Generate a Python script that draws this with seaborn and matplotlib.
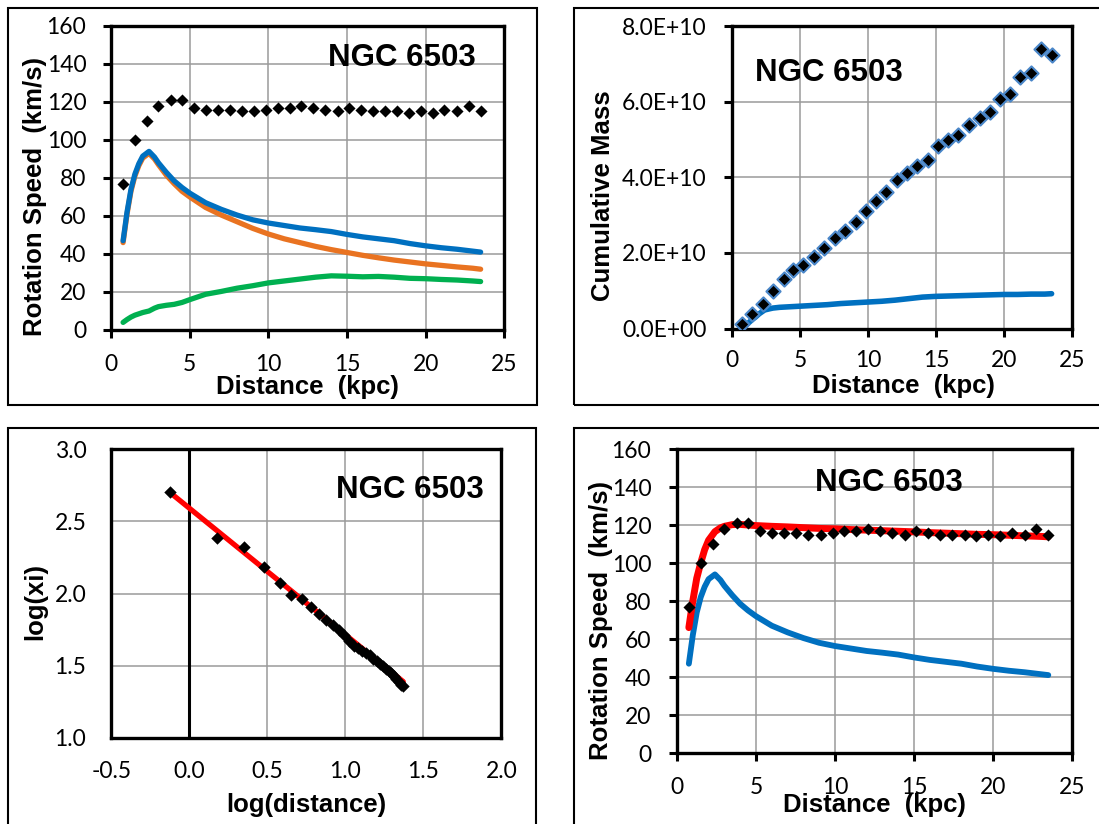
import numpy as np
import pandas as pd
import matplotlib
matplotlib.use("Agg")
import matplotlib.pyplot as plt
from matplotlib.patches import Rectangle
from matplotlib.ticker import FuncFormatter, MultipleLocator
import seaborn as sns

# ---------------- data ----------------
r_obs = [0.75, 1.5, 2.25, 3.0, 3.8, 4.5, 5.25, 6.0, 6.8, 7.55, 8.3, 9.1, 9.85, 10.6,
         11.35, 12.1, 12.85, 13.6, 14.4, 15.15, 15.9, 16.65, 17.4, 18.2, 18.95, 19.7,
         20.45, 21.2, 22.0, 22.75, 23.5]
v_obs = [77, 100, 110, 118, 121, 121, 117, 116, 116, 116, 115, 115, 116, 117,
         117, 118, 117, 116, 115, 117, 116, 115, 115, 115, 114, 115,
         114, 116, 115, 118, 115]
mass_obs = [0.13, 0.38, 0.64, 0.99, 1.30, 1.54, 1.68, 1.90, 2.14, 2.40, 2.57, 2.82, 3.10, 3.37,
            3.62, 3.92, 4.10, 4.29, 4.45, 4.83, 4.98, 5.11, 5.38, 5.58, 5.73, 6.06,
            6.19, 6.66, 6.76, 7.38, 7.23]  # x 1e10

curve_r = [0.75, 1.0, 1.25, 1.5, 1.75, 2.0, 2.4, 2.75, 3.0, 3.5, 4.0, 4.5, 5.0, 6, 7, 8, 9, 10,
           11, 12, 13, 14, 15, 16, 17, 18, 19, 20, 21, 22, 23, 23.5]
v_baryon = [47, 62, 74, 82, 87.5, 91.5, 94, 91, 88, 83, 78.5, 75, 72, 67, 63.5, 60.5, 58, 56.3,
            55, 53.7, 52.8, 51.8, 50.3, 49, 48, 47, 45.5, 44.3, 43.3, 42.5, 41.5, 41]
v_stars = [46, 61, 73, 81, 86.5, 90.5, 93, 90, 87, 81.5, 77, 73, 70, 64.5, 60.5, 57, 53.5, 50.5,
           48, 46, 44, 42.3, 40.8, 39.3, 38, 36.8, 35.8, 34.8, 34, 33.2, 32.5, 32]
v_gas = [4, 5.5, 6.8, 7.8, 8.5, 9.2, 10, 11.5, 12.3, 13, 13.5, 14.5, 16, 18.8, 20.3, 22, 23.3, 24.8,
         25.8, 26.8, 27.8, 28.5, 28.3, 28, 28.2, 27.8, 27.2, 27, 26.6, 26.3, 25.8, 25.5]
v_fit = [66, 80, 92, 100, 107, 112, 116.5, 118.5, 119.3, 120.2, 120.3, 120, 119.7, 119.3, 119,
         118.6, 118.2, 118, 117.6, 117.3, 117, 116.7, 116.4, 116, 115.7, 115.4, 115.1, 114.9,
         114.6, 114.3, 114, 113.8]
mass_baryon = [0.04, 0.09, 0.16, 0.24, 0.31, 0.39, 0.49, 0.52, 0.54, 0.56, 0.57, 0.58, 0.59, 0.61,
               0.63, 0.66, 0.68, 0.70, 0.72, 0.75, 0.79, 0.83, 0.85, 0.86, 0.87, 0.88, 0.89, 0.90,
               0.90, 0.91, 0.91, 0.92]  # x 1e10

log_r = [-0.125, 0.176, 0.352, 0.477, 0.580, 0.653, 0.720, 0.778, 0.833, 0.878, 0.919, 0.959,
         0.993, 1.025, 1.055, 1.083, 1.109, 1.134, 1.158, 1.180, 1.201, 1.221, 1.241, 1.260,
         1.278, 1.294, 1.311, 1.326, 1.342, 1.357, 1.371]
log_xi = [2.70, 2.385, 2.325, 2.18, 2.07, 1.99, 1.96, 1.905, 1.86, 1.82, 1.78, 1.75,
          1.71, 1.67, 1.64, 1.625, 1.60, 1.59, 1.575, 1.55, 1.53, 1.515, 1.50, 1.48,
          1.465, 1.45, 1.43, 1.41, 1.39, 1.37, 1.36]
fit_log_r = [-0.125, 1.371]
fit_log_xi = [2.70, 1.39]

title = "NGC 6503"

# ---------------- style ----------------
sns.set_style("white")
plt.rcParams['font.family'] = ['Lato', 'DejaVu Sans']
plt.rcParams['text.color'] = 'black'
plt.rcParams['axes.labelcolor'] = 'black'
plt.rcParams['xtick.color'] = 'black'
plt.rcParams['ytick.color'] = 'black'

BLUE = "#0070C0"
ORANGE = "#E97321"
GREEN = "#00B050"
RED = "#FF0000"
EDGE = "#4A86C8"
GRID = "#9A9A9A"
TICK_FS = 16.5
LAB_FS = 18.5
TITLE_FS = 22.5
BOLD = dict(family=['Liberation Sans', 'DejaVu Sans'], weight='bold')

fig = plt.figure(figsize=(10.99, 8.24), dpi=100)
W, H = 1099, 824

def px_box(x0, y0, x1, y1):
    fig.patches.append(Rectangle((x0 / W, 1 - y1 / H), (x1 - x0) / W, (y1 - y0) / H,
                                 transform=fig.transFigure, fill=False,
                                 edgecolor="black", linewidth=1.5, zorder=0))

px_box(7.5, 8, 537, 405.5)
px_box(574, 8, 1110, 405.5)
px_box(7.5, 428, 536, 840)
px_box(574, 428, 1110, 840)

def add_axes(x0, y0, x1, y1):
    return fig.add_axes([x0 / W, 1 - y1 / H, (x1 - x0) / W, (y1 - y0) / H])

def style(ax, ticks=True, xpad=11.5, ypad=12.5):
    for s in ax.spines.values():
        s.set_visible(True)
        s.set_linewidth(2.4)
        s.set_color("black")
        s.set_zorder(5)
    ax.grid(True, color=GRID, linewidth=1.1)
    ax.set_axisbelow(True)
    if ticks:
        ax.tick_params(axis='both', which='major', direction='out', length=5.5, width=2.2,
                       color='black', left=True, bottom=True, right=False, top=False,
                       labelsize=TICK_FS, labelcolor='black')
    else:
        ax.tick_params(axis='both', length=0, labelsize=TICK_FS, labelcolor='black')
    ax.tick_params(axis='x', pad=xpad)
    ax.tick_params(axis='y', pad=ypad)

# ---------------- top-left ----------------
ax1 = add_axes(111.3, 26, 504.2, 330)
df_c = pd.DataFrame({"r": curve_r, "baryon": v_baryon, "stars": v_stars, "gas": v_gas,
                     "fit": v_fit, "mb": np.array(mass_baryon) * 1e10})
df_o = pd.DataFrame({"r": r_obs, "v": v_obs, "m": np.array(mass_obs) * 1e10})

sns.lineplot(data=df_c, x="r", y="gas", ax=ax1, color=GREEN, linewidth=3.8,
             solid_capstyle='round', zorder=3)
sns.lineplot(data=df_c, x="r", y="stars", ax=ax1, color=ORANGE, linewidth=3.8,
             solid_capstyle='round', zorder=3)
sns.lineplot(data=df_c, x="r", y="baryon", ax=ax1, color=BLUE, linewidth=3.8,
             solid_capstyle='round', zorder=4)
sns.scatterplot(data=df_o, x="r", y="v", ax=ax1, marker="D", s=38, color="black",
                linewidth=0, zorder=6)
ax1.set_xlim(0, 25)
ax1.set_ylim(0, 160)
ax1.xaxis.set_major_locator(MultipleLocator(5))
ax1.yaxis.set_major_locator(MultipleLocator(20))
style(ax1)
ax1.set_xlabel("Distance  (kpc)", fontsize=LAB_FS, **BOLD)
ax1.set_ylabel("Rotation Speed  (km/s)", fontsize=LAB_FS, **BOLD)
ax1.xaxis.set_label_coords(0.5, -0.1875)
ax1.yaxis.set_label_coords(-0.194, 0.44)
ax1.xaxis.label.set_va('center')
ax1.yaxis.label.set_va('center')
ax1.text(18.5, 143, title, fontsize=TITLE_FS, ha='center', va='center', **BOLD)

# ---------------- top-right ----------------
ax2 = add_axes(732, 26, 1072, 328.5)
sns.lineplot(data=df_c, x="r", y="mb", ax=ax2, color=BLUE, linewidth=4.0,
             solid_capstyle='round', zorder=3)
sns.scatterplot(data=df_o, x="r", y="m", ax=ax2, marker="D", s=52, color="black",
                edgecolor=EDGE, linewidth=1.5, zorder=6)
ax2.set_xlim(0, 25)
ax2.set_ylim(0, 8e10)
ax2.xaxis.set_major_locator(MultipleLocator(5))
ax2.yaxis.set_major_locator(MultipleLocator(2e10))
ax2.yaxis.set_major_formatter(FuncFormatter(lambda v, p: "%.1E" % v))
style(ax2, xpad=10, ypad=13)
ax2.set_xlabel("Distance  (kpc)", fontsize=LAB_FS, **BOLD)
ax2.set_ylabel("Cumulative Mass", fontsize=LAB_FS, **BOLD)
ax2.xaxis.set_label_coords(0.503, -0.19)
ax2.yaxis.set_label_coords(-0.379, 0.439)
ax2.xaxis.label.set_va('center')
ax2.yaxis.label.set_va('center')
ax2.text(7.13, 6.76e10, title, fontsize=TITLE_FS, ha='center', va='center', **BOLD)

# ---------------- bottom-left ----------------
ax3 = add_axes(111.3, 449, 501.4, 738)
df_l = pd.DataFrame({"lr": log_r, "lx": log_xi})
df_f = pd.DataFrame({"lr": fit_log_r, "lx": fit_log_xi})
ax3.axvline(0, color="black", linewidth=2.2, zorder=2)
sns.lineplot(data=df_f, x="lr", y="lx", ax=ax3, color=RED, linewidth=3.8,
             solid_capstyle='round', zorder=3)
sns.scatterplot(data=df_l, x="lr", y="lx", ax=ax3, marker="D", s=40, color="black",
                linewidth=0, zorder=6)
ax3.set_xlim(-0.5, 2.0)
ax3.set_ylim(1.0, 3.0)
ax3.xaxis.set_major_locator(MultipleLocator(0.5))
ax3.yaxis.set_major_locator(MultipleLocator(0.5))
ax3.xaxis.set_major_formatter(FuncFormatter(lambda v, p: "%.1f" % v))
ax3.yaxis.set_major_formatter(FuncFormatter(lambda v, p: "%.1f" % v))
style(ax3, ticks=False, xpad=16.5, ypad=18)
ax3.set_xlabel("log(distance)", fontsize=LAB_FS, **BOLD)
ax3.set_ylabel("log(xi)", fontsize=LAB_FS, **BOLD)
ax3.xaxis.set_label_coords(0.5, -0.232)
ax3.yaxis.set_label_coords(-0.196, 0.474)
ax3.xaxis.label.set_va('center')
ax3.yaxis.label.set_va('center')
ax3.text(1.412, 2.716, title, fontsize=TITLE_FS, ha='center', va='center', **BOLD)

# ---------------- bottom-right ----------------
ax4 = add_axes(677, 449, 1072, 753)
sns.lineplot(data=df_c, x="r", y="baryon", ax=ax4, color=BLUE, linewidth=4.2,
             solid_capstyle='round', zorder=3)
sns.lineplot(data=df_c, x="r", y="fit", ax=ax4, color=RED, linewidth=5.0,
             solid_capstyle='round', zorder=3)
sns.scatterplot(data=df_o, x="r", y="v", ax=ax4, marker="D", s=38, color="black",
                linewidth=0, zorder=6)
ax4.set_xlim(0, 25)
ax4.set_ylim(0, 160)
ax4.xaxis.set_major_locator(MultipleLocator(5))
ax4.yaxis.set_major_locator(MultipleLocator(20))
style(ax4, xpad=12, ypad=13)
ax4.set_xlabel("Distance  (kpc)", fontsize=LAB_FS, **BOLD)
ax4.set_ylabel("Rotation Speed  (km/s)", fontsize=LAB_FS, **BOLD)
ax4.xaxis.set_label_coords(0.501, -0.171)
ax4.yaxis.set_label_coords(-0.192, 0.4375)
ax4.xaxis.label.set_va('center')
ax4.yaxis.label.set_va('center')
ax4.text(13.4, 142, title, fontsize=TITLE_FS, ha='center', va='center', **BOLD)

for ax in (ax1, ax2, ax3, ax4):
    if ax.get_legend() is not None:
        ax.get_legend().remove()

fig.savefig("out.png", dpi=100)
